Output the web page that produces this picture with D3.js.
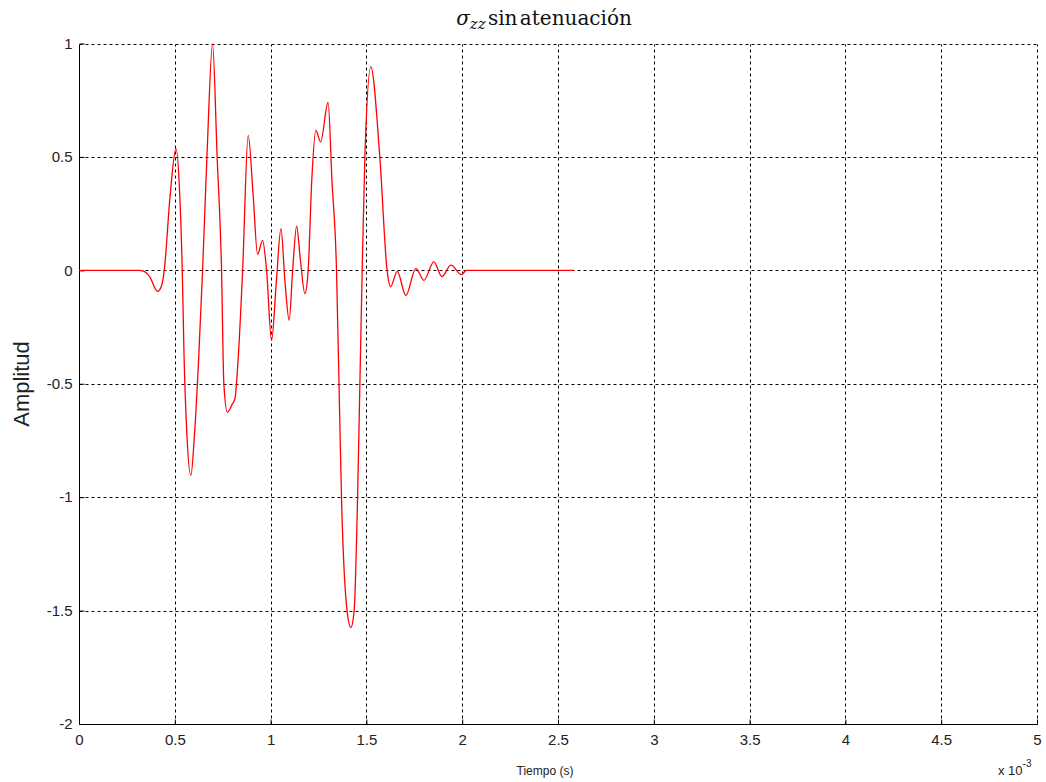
<!DOCTYPE html>
<html>
<head>
<meta charset="utf-8">
<script src="https://cdn.jsdelivr.net/npm/d3@7"></script>
<style>
  html, body { margin: 0; padding: 0; background: #fff; }
  svg { display: block; }
</style>
</head>
<body>
<svg id="chart" width="1046" height="782"></svg>
<script>
// Time in milliseconds (axis shows x 10^-3 s)
const timeMs = [0, 0.31, 0.34, 0.37, 0.41, 0.43, 0.445, 0.475, 0.506, 0.527, 0.539, 0.548, 0.562, 0.584,
  0.603, 0.624, 0.645, 0.669, 0.697, 0.721, 0.744, 0.756, 0.774, 0.80, 0.814, 0.83, 0.854, 0.883, 0.909,
  0.932, 0.958, 0.979, 1.005, 1.03, 1.054, 1.075, 1.097, 1.115, 1.136, 1.155, 1.179, 1.196, 1.215, 1.236,
  1.261, 1.300, 1.32, 1.344, 1.357, 1.370, 1.399, 1.419, 1.436, 1.454, 1.466, 1.478, 1.492, 1.523, 1.570,
  1.608, 1.626, 1.661, 1.706, 1.758, 1.800, 1.852, 1.894, 1.941, 1.996, 2.022, 2.58];
const amplitude = [0, 0, -0.005, -0.03, -0.093, -0.07, 0, 0.323, 0.536, 0.309, 0, -0.368, -0.705, -0.904,
  -0.72, -0.40, 0, 0.529, 0.998, 0.5, 0, -0.5, -0.625, -0.59, -0.565, -0.4, 0, 0.595, 0.33,
  0.07, 0.132, 0, -0.309, -0.05, 0.184, -0.05, -0.22, 0, 0.195, 0.05, -0.103, 0, 0.4, 0.617,
  0.566, 0.740, 0.4, 0, -0.5, -1.0, -1.5, -1.574, -1.5, -1.0, -0.5, 0, 0.5, 0.897, 0.5,
  0, -0.072, -0.005, -0.111, 0.009, -0.044, 0.037, -0.028, 0.023, -0.019, 0, 0];
const xTicks = [0, 0.5, 1, 1.5, 2, 2.5, 3, 3.5, 4, 4.5, 5];
const yTicks = [-2, -1.5, -1, -0.5, 0, 0.5, 1];

const svg = d3.select("#chart");
const plotL = 79, plotR = 1037, plotT = 43.5, plotB = 724;

const x = d3.scaleLinear().domain([0, 5]).range([plotL, plotR]);
const y = d3.scaleLinear().domain([-2, 1]).range([plotB, plotT]);

const px = v => Math.round(v) + 0.5;

// Grid
const grid = svg.append("g").attr("stroke", "#000").attr("stroke-width", 1).attr("stroke-dasharray", "3,3").attr("fill", "none");
xTicks.filter(d => d !== 0).forEach(d => {
  grid.append("line").attr("x1", px(x(d))).attr("x2", px(x(d))).attr("y1", px(plotB)).attr("y2", px(plotT));
});
yTicks.filter(d => d !== -2).forEach(d => {
  grid.append("line").attr("x1", px(plotL)).attr("x2", px(plotR)).attr("y1", px(y(d))).attr("y2", px(y(d)));
});

// Axes (MATLAB style, ticks inward)
const xAxis = d3.axisBottom(x).tickValues(xTicks).tickSize(-5).tickPadding(10).tickFormat(d => String(d));
const yAxis = d3.axisLeft(y).tickValues(yTicks).tickSize(-5).tickPadding(7).tickFormat(d => String(d));

const gx = svg.append("g").attr("transform", `translate(0,${px(plotB)})`).call(xAxis);
const gy = svg.append("g").attr("transform", `translate(${px(plotL)},0)`).call(yAxis);
[gx, gy].forEach(g => {
  g.select(".domain").attr("stroke", "#000").attr("stroke-width", 1);
  g.selectAll(".tick line").attr("stroke", "#000");
  g.selectAll(".tick text").attr("fill", "#222").style("font-family", "'Liberation Sans', Arial, sans-serif").style("font-size", "15px");
});
gy.select(".domain").attr("d", `M0,${px(plotB)}V${px(plotT)}`);
gx.select(".domain").attr("d", `M${px(plotL)},0H${px(plotR)}`);

// Data line
const line = d3.line().x((d, i) => x(timeMs[i])).y((d, i) => y(amplitude[i])).curve(d3.curveMonotoneX);
svg.append("path").datum(timeMs).attr("d", line).attr("fill", "none").attr("stroke", "#ff0000").attr("stroke-width", 1.3);

// Title
const title = svg.append("text").attr("x", 544).attr("y", 25).attr("text-anchor", "middle")
  .style("font-family", "'DejaVu Serif', 'Liberation Serif', serif").style("font-size", "20px")
  .style("word-spacing", "-4px").attr("fill", "#111");
title.append("tspan").style("font-style", "italic").text("σ");
title.append("tspan").style("font-style", "italic").style("font-size", "15px").attr("dy", 4).text("zz");
title.append("tspan").attr("dy", -4).text(" sin atenuación");

// Axis labels
svg.append("text").attr("transform", "translate(29,384) rotate(-90)").attr("text-anchor", "middle")
  .style("font-family", "'Liberation Sans', Arial, sans-serif").style("font-size", "22px").attr("fill", "#222").text("Amplitud");
svg.append("text").attr("x", 545).attr("y", 775).attr("text-anchor", "middle")
  .style("font-family", "'Liberation Sans', Arial, sans-serif").style("font-size", "12px").attr("fill", "#222").text("Tiempo (s)");
const mult = svg.append("text").attr("x", 998).attr("y", 775)
  .style("font-family", "'Liberation Sans', Arial, sans-serif").style("font-size", "13px").attr("fill", "#222");
mult.append("tspan").text("x 10");
mult.append("tspan").attr("dy", -8).style("font-size", "10px").text("-3");
</script>
</body>
</html>
